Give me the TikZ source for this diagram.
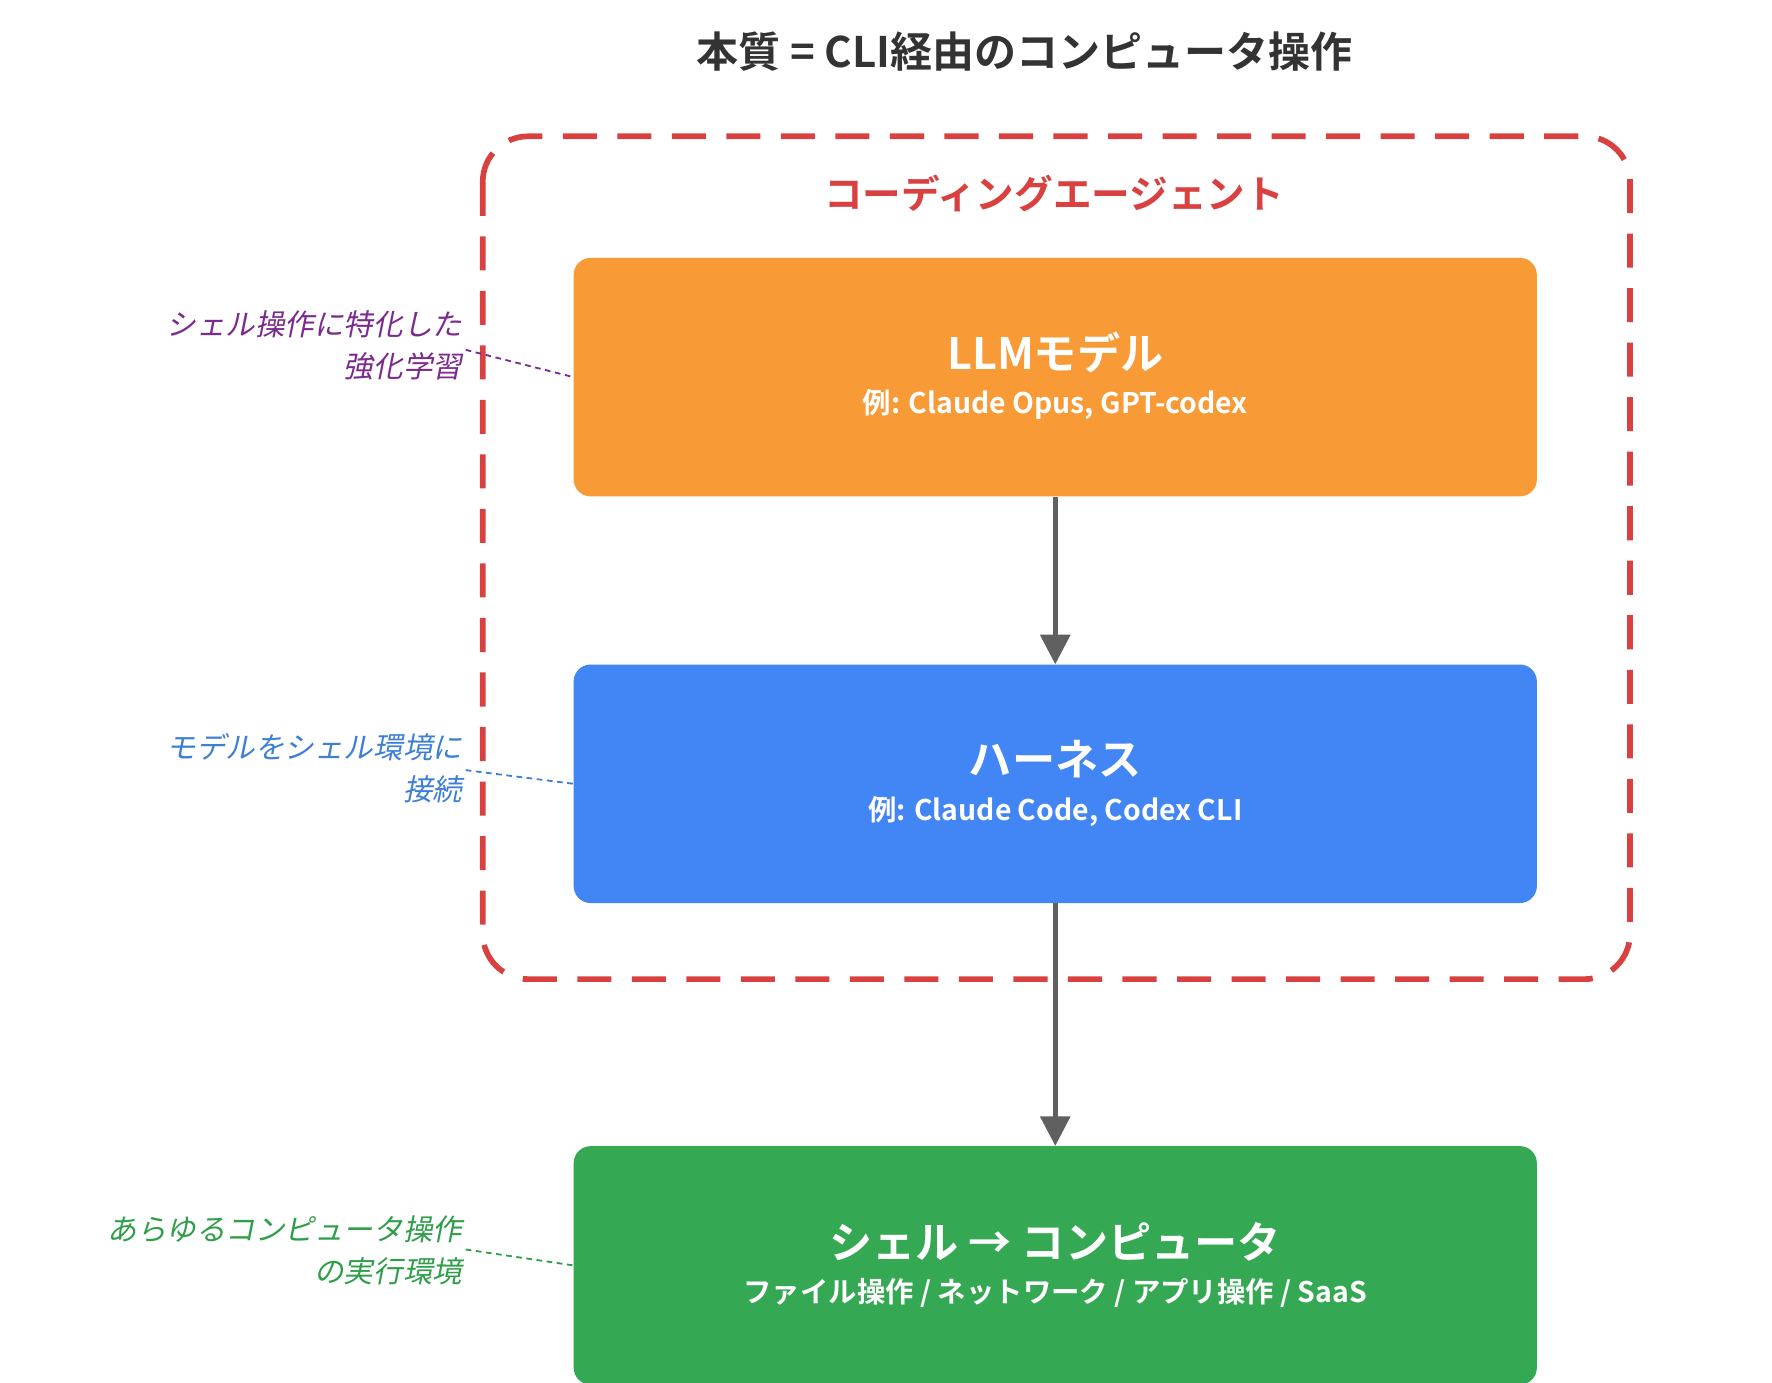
\documentclass[tikz,border=0pt]{standalone}
\usepackage{fontspec}
\setmainfont{Noto Sans CJK JP}
\newfontfamily\jpb{Noto Sans CJK JP}[BoldFont={* Bold}]
\newfontfamily\jpi{Noto Sans CJK JP}[FakeSlant=0.2]
\usetikzlibrary{arrows.meta}
\definecolor{agred}{HTML}{D94040}
\definecolor{orng}{HTML}{F89A36}
\definecolor{blu}{HTML}{4285F4}
\definecolor{grn}{HTML}{34A853}
\definecolor{dk}{HTML}{333333}
\definecolor{gry}{HTML}{606060}
\definecolor{purp}{HTML}{7B2A8E}
\definecolor{lblue}{HTML}{3E7FD6}
\definecolor{lgrn}{HTML}{2E9E48}
\begin{document}
\begin{tikzpicture}[x=1pt,y=-1pt,
  box/.style={rounded corners=15pt,minimum width=848pt,minimum height=210pt,inner sep=0},
  ttl/.style={font=\jpb\bfseries\fontsize{38}{44}\selectfont,text=white},
  sub/.style={font=\jpb\bfseries\fontsize{25}{30}\selectfont,text=white},
  note/.style={font=\jpi\fontsize{26}{37}\selectfont,align=right,anchor=east,inner sep=0},
  lead/.style={dashed,line width=1.6pt,dash pattern=on 5pt off 4pt},
  arr/.style={line width=4pt,gry,-{Triangle[length=26pt,width=26pt]}}]
\useasboundingbox (0,0) rectangle (1560,1217);
\node[font=\jpb\bfseries\fontsize{37}{44}\selectfont,text=dk] (title) at (902,45) {本質 = CLI経由のコンピュータ操作};
\draw[agred,line width=5pt,dash pattern=on 30pt off 18pt,rounded corners=40pt] (425,120) rectangle (1435,862);
\node[font=\jpb\bfseries\fontsize{34}{40}\selectfont,text=agred] (ag) at (928,170) {コーディングエージェント};
\node[box,fill=orng] (llm) at (929,332) {};
\node[ttl] at (929,310) {LLMモデル};
\node[sub] at (929,356) {例: Claude Opus, GPT-codex};
\node[box,fill=blu] (har) at (929,690) {};
\node[ttl] at (929,668) {ハーネス};
\node[sub] at (929,714) {例: Claude Code, Codex CLI};
\node[box,fill=grn] (sh) at (929,1114) {};
\node[ttl] at (929,1093) {シェル → コンピュータ};
\node[sub] at (929,1138) {ファイル操作 / ネットワーク / アプリ操作 / SaaS};
\draw[arr] (llm.south) -- (har.north);
\draw[arr] (har.south) -- (sh.north);
\node[note,text=purp] (n1) at (407,304) {シェル操作に特化した\\強化学習};
\node[note,text=lblue] (n2) at (407,676) {モデルをシェル環境に\\接続};
\node[note,text=lgrn] (n3) at (407,1101) {あらゆるコンピュータ操作\\の実行環境};
\coordinate (c1) at (410,308); \coordinate (c2) at (410,678); \coordinate (c3) at (410,1100);
\draw[lead,purp] (c1) -- (llm.west);
\draw[lead,lblue] (c2) -- (har.west);
\draw[lead,lgrn] (c3) -- (sh.west);
\end{tikzpicture}
\end{document}
